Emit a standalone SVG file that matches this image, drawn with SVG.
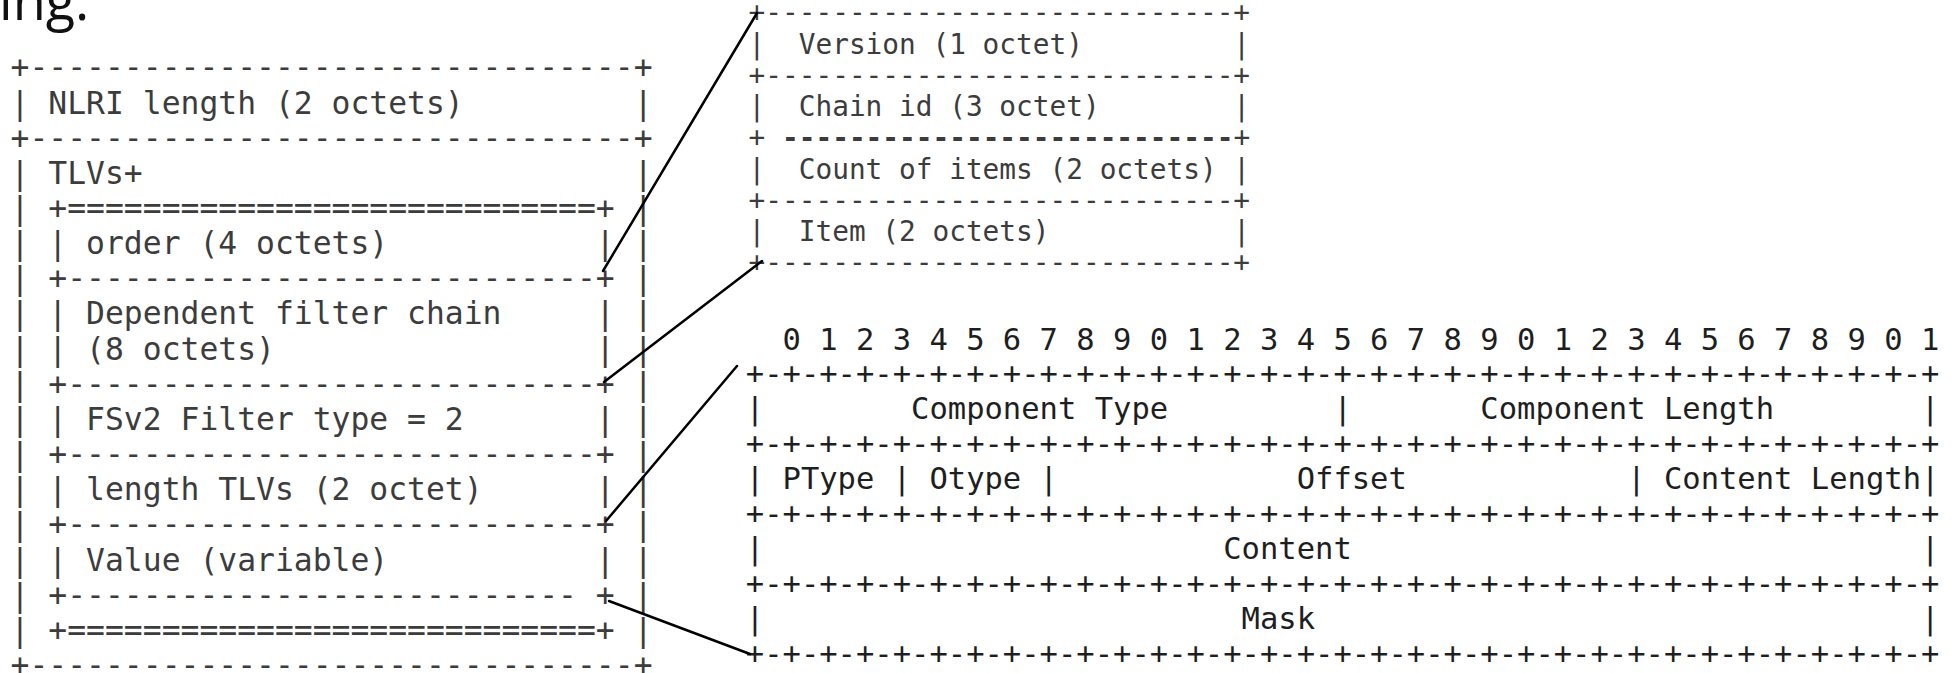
<svg xmlns="http://www.w3.org/2000/svg" width="1959" height="673" viewBox="0 0 1959 673">
  <style>
    .mono { font-family: "DejaVu Sans Mono", "Liberation Mono", monospace; }
    .tlv { font-size: 31.36px; fill: #3c3c3c; }
    .chain { font-size: 27.77px; fill: #3c3c3c; }
    .bits { font-size: 30.5px; fill: #1e1e1e; }
    .heavy { font-weight: bold; }
    .link { stroke: #000; stroke-width: 2.5; fill: none; stroke-linecap: round; }
    .prose { font-family: "Open Sans", "Noto Sans", sans-serif; font-size: 54px; fill: #111; }
  </style>

  <!-- tail of the preceding sentence -->
  <text class="prose" x="-1" y="20">ing.</text>

  <!-- NLRI with nested TLV list (34 columns) -->
  <g id="nlri-tlvs" class="mono tlv">
    <text x="10.6" y="78.4">+--------------------------------+</text>
    <text x="10.6" y="113.5">| NLRI length (2 octets)&#160;&#160;&#160;&#160;&#160;&#160;&#160;&#160;&#160;|</text>
    <text x="10.6" y="148.7">+--------------------------------+</text>
    <text x="10.6" y="183.8">| TLVs+&#160;&#160;&#160;&#160;&#160;&#160;&#160;&#160;&#160;&#160;&#160;&#160;&#160;&#160;&#160;&#160;&#160;&#160;&#160;&#160;&#160;&#160;&#160;&#160;&#160;&#160;|</text>
    <text x="10.6" y="219.0">| +============================+ |</text>
    <text x="10.6" y="254.1">| | order (4 octets)&#160;&#160;&#160;&#160;&#160;&#160;&#160;&#160;&#160;&#160;&#160;| |</text>
    <text x="10.6" y="289.3">| +----------------------------+ |</text>
    <text x="10.6" y="324.4">| | Dependent filter chain&#160;&#160;&#160;&#160;&#160;| |</text>
    <text x="10.6" y="359.6">| | (8 octets)&#160;&#160;&#160;&#160;&#160;&#160;&#160;&#160;&#160;&#160;&#160;&#160;&#160;&#160;&#160;&#160;&#160;| |</text>
    <text x="10.6" y="394.7">| +----------------------------+ |</text>
    <text x="10.6" y="429.9">| | FSv2 Filter type = 2&#160;&#160;&#160;&#160;&#160;&#160;&#160;| |</text>
    <text x="10.6" y="465.0">| +----------------------------+ |</text>
    <text x="10.6" y="500.2">| | length TLVs (2 octet)&#160;&#160;&#160;&#160;&#160;&#160;| |</text>
    <text x="10.6" y="535.3">| +----------------------------+ |</text>
    <text x="10.6" y="570.5">| | Value (variable)&#160;&#160;&#160;&#160;&#160;&#160;&#160;&#160;&#160;&#160;&#160;| |</text>
    <text x="10.6" y="605.6">| +--------------------------- + |</text>
    <text x="10.6" y="640.8">| +============================+ |</text>
    <text x="10.6" y="675.9">+--------------------------------+</text>
  </g>

  <!-- dependent filter chain layout (30 columns) -->
  <g id="filter-chain" class="mono chain">
    <text x="748.6" y="22.2">+----------------------------+</text>
    <text x="748.6" y="53.5">|&#160;&#160;Version (1 octet)&#160;&#160;&#160;&#160;&#160;&#160;&#160;&#160;&#160;|</text>
    <text x="748.6" y="84.7">+----------------------------+</text>
    <text x="748.6" y="116.0">|&#160;&#160;Chain id (3 octet)&#160;&#160;&#160;&#160;&#160;&#160;&#160;&#160;|</text>
    <text x="748.6" y="147.2">+&#160;<tspan class="heavy">---------------------------</tspan>+</text>
    <text x="748.6" y="178.5">|&#160;&#160;Count of items (2 octets) |</text>
    <text x="748.6" y="209.7">+----------------------------+</text>
    <text x="748.6" y="241.0">|&#160;&#160;Item (2 octets)&#160;&#160;&#160;&#160;&#160;&#160;&#160;&#160;&#160;&#160;&#160;|</text>
    <text x="748.6" y="272.2">+----------------------------+</text>
  </g>

  <!-- component bit layout (65 columns) -->
  <g id="component" class="mono bits">
    <text x="745.8" y="349.5">&#160;&#160;0 1 2 3 4 5 6 7 8 9 0 1 2 3 4 5 6 7 8 9 0 1 2 3 4 5 6 7 8 9 0 1</text>
    <text x="745.8" y="383.5">+-+-+-+-+-+-+-+-+-+-+-+-+-+-+-+-+-+-+-+-+-+-+-+-+-+-+-+-+-+-+-+-+</text>
    <text x="745.8" y="418.5">|&#160;&#160;&#160;&#160;&#160;&#160;&#160;&#160;Component Type&#160;&#160;&#160;&#160;&#160;&#160;&#160;&#160;&#160;|&#160;&#160;&#160;&#160;&#160;&#160;&#160;Component Length&#160;&#160;&#160;&#160;&#160;&#160;&#160;&#160;|</text>
    <text x="745.8" y="453.5">+-+-+-+-+-+-+-+-+-+-+-+-+-+-+-+-+-+-+-+-+-+-+-+-+-+-+-+-+-+-+-+-+</text>
    <text x="745.8" y="488.5">| PType | Otype |&#160;&#160;&#160;&#160;&#160;&#160;&#160;&#160;&#160;&#160;&#160;&#160;&#160;Offset&#160;&#160;&#160;&#160;&#160;&#160;&#160;&#160;&#160;&#160;&#160;&#160;| Content Length|</text>
    <text x="745.8" y="523.5">+-+-+-+-+-+-+-+-+-+-+-+-+-+-+-+-+-+-+-+-+-+-+-+-+-+-+-+-+-+-+-+-+</text>
    <text x="745.8" y="558.5">|&#160;&#160;&#160;&#160;&#160;&#160;&#160;&#160;&#160;&#160;&#160;&#160;&#160;&#160;&#160;&#160;&#160;&#160;&#160;&#160;&#160;&#160;&#160;&#160;&#160;Content&#160;&#160;&#160;&#160;&#160;&#160;&#160;&#160;&#160;&#160;&#160;&#160;&#160;&#160;&#160;&#160;&#160;&#160;&#160;&#160;&#160;&#160;&#160;&#160;&#160;&#160;&#160;&#160;&#160;&#160;&#160;|</text>
    <text x="745.8" y="593.5">+-+-+-+-+-+-+-+-+-+-+-+-+-+-+-+-+-+-+-+-+-+-+-+-+-+-+-+-+-+-+-+-+</text>
    <text x="745.8" y="628.5">|&#160;&#160;&#160;&#160;&#160;&#160;&#160;&#160;&#160;&#160;&#160;&#160;&#160;&#160;&#160;&#160;&#160;&#160;&#160;&#160;&#160;&#160;&#160;&#160;&#160;&#160;Mask&#160;&#160;&#160;&#160;&#160;&#160;&#160;&#160;&#160;&#160;&#160;&#160;&#160;&#160;&#160;&#160;&#160;&#160;&#160;&#160;&#160;&#160;&#160;&#160;&#160;&#160;&#160;&#160;&#160;&#160;&#160;&#160;&#160;|</text>
    <text x="745.8" y="663.5">+-+-+-+-+-+-+-+-+-+-+-+-+-+-+-+-+-+-+-+-+-+-+-+-+-+-+-+-+-+-+-+-+</text>
  </g>

  <!-- callout lines from TLV rows to their expanded layouts -->
  <g id="connectors">
    <line class="link" x1="603" y1="271" x2="757" y2="13"/>
    <line class="link" x1="604" y1="382" x2="762" y2="261"/>
    <line class="link" x1="606" y1="521" x2="737" y2="366"/>
    <line class="link" x1="609" y1="601" x2="750" y2="654"/>
  </g>
</svg>
